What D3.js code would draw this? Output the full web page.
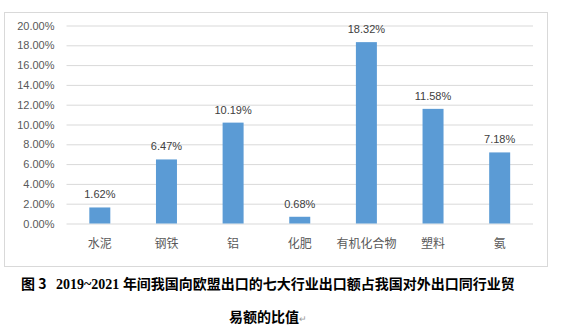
<!DOCTYPE html>
<html>
<head>
<meta charset="utf-8">
<script src="https://cdn.jsdelivr.net/npm/d3@7"></script>
<style>
  body { margin: 0; background: #fff; }
  svg { display: block; }
</style>
</head>
<body>
<div id="chart"></div>
<script>
const categories = ['水泥', '钢铁', '铝', '化肥', '有机化合物', '塑料', '氨']
const values = [1.62, 6.47, 10.19, 0.68, 18.32, 11.58, 7.18]
const yTicks = [0, 2, 4, 6, 8, 10, 12, 14, 16, 18, 20]

const W = 563
const H = 334
const margin = { top: 25.5, right: 30, bottom: 110.5, left: 66.5 }
const width = 533 - margin.left
const height = 223.5 - margin.top

const svg = d3
  .select('#chart')
  .append('svg')
  .attr('width', W)
  .attr('height', H)

// chart frame
svg
  .append('rect')
  .attr('x', 4.5)
  .attr('y', 12.5)
  .attr('width', 543)
  .attr('height', 254)
  .attr('fill', '#fff')
  .attr('stroke', '#d9d9d9')

const g = svg
  .append('g')
  .attr('transform', 'translate(' + margin.left + ',' + margin.top + ')')

const x = d3
  .scaleBand()
  .domain(categories)
  .range([0, width])
  .paddingInner(0.685)
  .paddingOuter(0.3425)

const y = d3.scaleLinear().domain([0, 20]).range([height, 0])

const yAxis = d3
  .axisLeft(y)
  .tickValues(yTicks)
  .tickSize(-width)
  .tickPadding(12)
  .tickFormat(d => d.toFixed(2) + '%')

g.append('g')
  .attr('class', 'y-axis')
  .call(yAxis)
  .call(s => s.select('.domain').remove())
  .call(s => s.selectAll('line').attr('stroke', '#d9d9d9'))
  .call(s =>
    s
      .selectAll('text')
      .attr('fill', '#595959')
      .attr('font-size', 11)
      .attr('font-family', 'Liberation Sans, Arial, sans-serif')
  )

g.selectAll('.bar')
  .data(values)
  .enter()
  .append('rect')
  .attr('class', 'bar')
  .attr('x', (d, i) => x(categories[i]))
  .attr('y', d => y(d))
  .attr('width', x.bandwidth())
  .attr('height', d => height - y(d))
  .attr('fill', '#5b9bd5')

g.selectAll('.val')
  .data(values)
  .enter()
  .append('text')
  .attr('class', 'val')
  .attr('x', (d, i) => x(categories[i]) + x.bandwidth() / 2)
  .attr('y', d => y(d) - 9)
  .attr('text-anchor', 'middle')
  .attr('font-size', 11)
  .attr('font-family', 'Liberation Sans, Arial, sans-serif')
  .attr('fill', '#404040')
  .text(d => d.toFixed(2) + '%')

g.selectAll('.cat')
  .data(categories)
  .enter()
  .append('text')
  .attr('class', 'cat')
  .attr('x', d => x(d) + x.bandwidth() / 2)
  .attr('y', height + 24)
  .attr('text-anchor', 'middle')
  .attr('font-size', 12)
  .attr('font-family', 'Noto Sans CJK SC, sans-serif')
  .attr('fill', '#595959')
  .text(d => d)

// caption
const cap1 = svg
  .append('text')
  .attr('x', 268)
  .attr('y', 289)
  .attr('text-anchor', 'middle')
  .attr('font-size', 14)
  .attr('font-weight', 'bold')
  .attr('font-family', 'Noto Sans CJK SC, sans-serif')
  .attr('fill', '#000')
cap1.append('tspan').text('图 3\u00a0\u00a0 ')
cap1
  .append('tspan')
  .attr('font-family', 'Liberation Serif, serif')
  .text('2019~2021 ')
cap1.append('tspan').text('年间我国向欧盟出口的七大行业出口额占我国对外出口同行业贸')

const cap2 = svg
  .append('text')
  .attr('x', 268)
  .attr('y', 322)
  .attr('text-anchor', 'middle')
  .attr('font-size', 14)
  .attr('font-weight', 'bold')
  .attr('font-family', 'Noto Sans CJK SC, sans-serif')
  .attr('fill', '#000')
cap2.append('tspan').text('易额的比值')
cap2
  .append('tspan')
  .attr('font-size', 9)
  .attr('font-weight', 'normal')
  .attr('fill', '#999')
  .text('↵')
</script>
</body>
</html>
